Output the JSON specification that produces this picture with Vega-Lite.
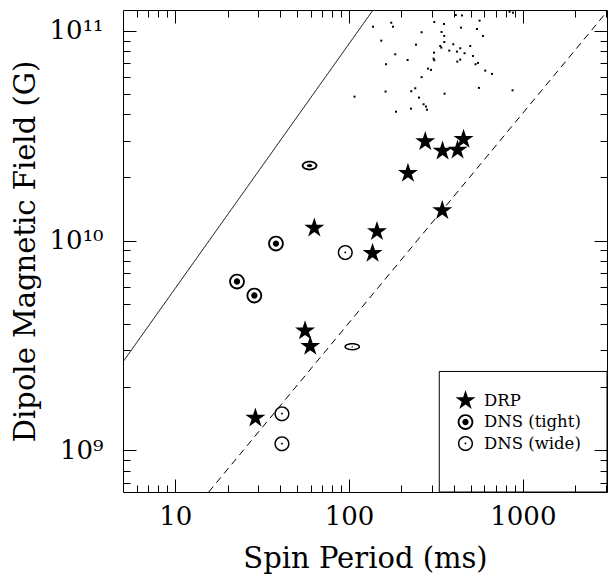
{
  "$schema": "https://vega.github.io/schema/vega-lite/v6.json",
  "width": 484,
  "height": 482,
  "autosize": "none",
  "padding": {"left": 123, "top": 10, "right": 1, "bottom": 92},
  "background": "white",
  "config": {
    "view": {"stroke": "black", "strokeWidth": 1},
    "axis": {
      "domain": false, "grid": false, "tickColor": "black", "tickWidth": 1,
      "labelFont": "DejaVu Serif", "titleFont": "DejaVu Serif",
      "labelColor": "black", "titleColor": "black", "titleFontWeight": "normal",
      "labelFlush": false, "labelOverlap": false
    }
  },
  "datasets": {
    "lines": [
      {"P": 5, "B": 2.64e9, "line": "spin-up"},
      {"P": 137.4, "B": 1.259e11, "line": "spin-up"},
      {"P": 15.57, "B": 6.32e8, "line": "death"},
      {"P": 3050, "B": 1.237e11, "line": "death"}
    ],
    "dots": [
      {"P": 137.3, "B": 1.048e11}, {"P": 174.9, "B": 1.095e11}, {"P": 178.9, "B": 1.048e11},
      {"P": 153.2, "B": 8.99e10}, {"P": 107.5, "B": 4.86e10}, {"P": 184.4, "B": 7.74e10},
      {"P": 163.1, "B": 6.94e10}, {"P": 217.1, "B": 7.27e10}, {"P": 242.7, "B": 8.60e10},
      {"P": 261.4, "B": 9.86e10}, {"P": 309.2, "B": 1.104e11}, {"P": 351.6, "B": 1.080e11},
      {"P": 340.6, "B": 9.89e10}, {"P": 353.0, "B": 9.47e10}, {"P": 353.0, "B": 8.86e10},
      {"P": 334.7, "B": 8.48e10}, {"P": 339.2, "B": 8.33e10}, {"P": 308.0, "B": 7.88e10},
      {"P": 306.4, "B": 7.38e10}, {"P": 309.2, "B": 7.25e10}, {"P": 284.4, "B": 6.61e10},
      {"P": 295.9, "B": 6.52e10}, {"P": 261.4, "B": 6.02e10}, {"P": 240.4, "B": 5.33e10},
      {"P": 228.0, "B": 5.16e10}, {"P": 162.2, "B": 5.14e10}, {"P": 252.5, "B": 4.81e10},
      {"P": 268.4, "B": 4.47e10}, {"P": 277.1, "B": 4.36e10}, {"P": 280.7, "B": 4.21e10},
      {"P": 227.1, "B": 4.26e10}, {"P": 186.2, "B": 4.12e10}, {"P": 354.4, "B": 5.02e10},
      {"P": 397.7, "B": 8.64e10}, {"P": 377.2, "B": 8.06e10}, {"P": 417.6, "B": 7.97e10},
      {"P": 436.3, "B": 8.27e10}, {"P": 461.9, "B": 7.83e10}, {"P": 419.4, "B": 7.14e10},
      {"P": 436.3, "B": 7.30e10}, {"P": 498.1, "B": 8.48e10}, {"P": 516.3, "B": 7.60e10},
      {"P": 534.3, "B": 6.94e10}, {"P": 551.6, "B": 7.04e10}, {"P": 607.6, "B": 6.47e10},
      {"P": 664.2, "B": 6.24e10}, {"P": 440.4, "B": 1.037e11}, {"P": 544.4, "B": 1.022e11},
      {"P": 563.5, "B": 1.120e11}, {"P": 589.4, "B": 9.47e10}, {"P": 559.0, "B": 5.35e10},
      {"P": 872.6, "B": 5.21e10}, {"P": 411.1, "B": 1.192e11}, {"P": 446.3, "B": 1.186e11},
      {"P": 838.5, "B": 1.236e11}, {"P": 877.0, "B": 1.222e11}
    ],
    "psr": [
      {"P": 63.1, "B": 1.147e10, "type": "DRP"},
      {"P": 144.7, "B": 1.104e10, "type": "DRP"},
      {"P": 136.5, "B": 8.71e9, "type": "DRP"},
      {"P": 55.8, "B": 3.71e9, "type": "DRP"},
      {"P": 59.8, "B": 3.13e9, "type": "DRP"},
      {"P": 218.2, "B": 2.097e10, "type": "DRP"},
      {"P": 343.8, "B": 1.391e10, "type": "DRP"},
      {"P": 28.9, "B": 1.424e9, "type": "DRP"},
      {"P": 274.4, "B": 2.966e10, "type": "DRP"},
      {"P": 345.0, "B": 2.679e10, "type": "DRP"},
      {"P": 421.0, "B": 2.708e10, "type": "DRP"},
      {"P": 455.9, "B": 3.046e10, "type": "DRP"},
      {"P": 37.96, "B": 9.68e9, "type": "DNS (tight)"},
      {"P": 22.65, "B": 6.38e9, "type": "DNS (tight)"},
      {"P": 28.5, "B": 5.47e9, "type": "DNS (tight)"},
      {"P": 59.25, "B": 2.279e10, "type": "DNS (tight) eccentric"},
      {"P": 95.1, "B": 8.77e9, "type": "DNS (wide)"},
      {"P": 41.1, "B": 1.493e9, "type": "DNS (wide)"},
      {"P": 41.1, "B": 1.074e9, "type": "DNS (wide)"},
      {"P": 104.3, "B": 3.115e9, "type": "DNS (wide) eccentric"}
    ],
    "box": [{"P1": 330.4, "P2": 3050, "B1": 6.32e8, "B2": 2.375e9}]
  },
  "layer": [
    {
      "data": {"name": "lines"},
      "mark": {"type": "line", "color": "black", "strokeWidth": 1, "clip": true},
      "encoding": {
        "x": {"field": "P", "type": "quantitative",
          "scale": {"type": "log", "domain": [5, 3050], "nice": false},
          "axis": {"orient": "bottom", "values": [10, 100, 1000], "tickSize": -13,
            "labelFontSize": 26, "labelPadding": 24, "labelExpr": "format(datum.value, 'd')",
            "title": "Spin Period (ms)", "titleFontSize": 29, "titleBaseline": "alphabetic", "titleY": 75}},
        "y": {"field": "B", "type": "quantitative",
          "scale": {"type": "log", "domain": [6.32e8, 1.259e11], "nice": false},
          "axis": {"orient": "left", "values": [1e9, 1e10, 1e11], "tickSize": -13,
            "labelFontSize": 26, "labelPadding": 33,
            "labelExpr": "datum.value >= 5e10 ? '10¹¹' : datum.value >= 5e9 ? '10¹⁰' : '10⁹'",
            "title": "Dipole Magnetic Field (G)", "titleFontSize": 29, "titleBaseline": "alphabetic", "titleX": -89}},
        "detail": {"field": "line", "type": "nominal"},
        "strokeDash": {"field": "line", "type": "nominal",
          "scale": {"domain": ["spin-up", "death"], "range": [[1, 0], [7, 5]]}, "legend": null}
      }
    },
    {
      "data": {"name": "dots"},
      "mark": {"type": "point", "shape": "square", "filled": true, "color": "black", "size": 4, "opacity": 1},
      "encoding": {
        "x": {"field": "P", "type": "quantitative",
          "scale": {"type": "log", "domain": [5, 3050], "nice": false},
          "axis": {"orient": "bottom", "values": [6, 7, 8, 9, 20, 30, 40, 50, 60, 70, 80, 90, 200, 300, 400, 500, 600, 700, 800, 900, 2000, 3000],
            "tickSize": -7, "labels": false, "title": null}},
        "y": {"field": "B", "type": "quantitative",
          "scale": {"type": "log", "domain": [6.32e8, 1.259e11], "nice": false},
          "axis": {"orient": "left", "values": [7e8, 8e8, 9e8, 2e9, 3e9, 4e9, 5e9, 6e9, 7e9, 8e9, 9e9, 2e10, 3e10, 4e10, 5e10, 6e10, 7e10, 8e10, 9e10],
            "tickSize": -7, "labels": false, "title": null}}
      }
    },
    {
      "data": {"name": "box"},
      "mark": {"type": "rect", "fill": null, "stroke": "black", "strokeWidth": 1},
      "encoding": {
        "x": {"field": "P1", "type": "quantitative",
          "scale": {"type": "log", "domain": [5, 3050], "nice": false},
          "axis": {"orient": "top", "values": [6, 7, 8, 9, 20, 30, 40, 50, 60, 70, 80, 90, 200, 300, 400, 500, 600, 700, 800, 900, 2000, 3000],
            "tickSize": -7, "labels": false, "title": null}},
        "x2": {"field": "P2"},
        "y": {"field": "B1", "type": "quantitative",
          "scale": {"type": "log", "domain": [6.32e8, 1.259e11], "nice": false},
          "axis": {"orient": "right", "values": [7e8, 8e8, 9e8, 2e9, 3e9, 4e9, 5e9, 6e9, 7e9, 8e9, 9e9, 2e10, 3e10, 4e10, 5e10, 6e10, 7e10, 8e10, 9e10],
            "tickSize": -7, "labels": false, "title": null}},
        "y2": {"field": "B2"}
      }
    },
    {
      "data": {"name": "psr"},
      "mark": {"type": "point", "filled": true, "color": "black", "size": 441, "strokeWidth": 0, "opacity": 1},
      "encoding": {
        "x": {"field": "P", "type": "quantitative",
          "scale": {"type": "log", "domain": [5, 3050], "nice": false},
          "axis": {"orient": "top", "values": [10, 100, 1000], "tickSize": -13, "labels": false, "title": null}},
        "y": {"field": "B", "type": "quantitative",
          "scale": {"type": "log", "domain": [6.32e8, 1.259e11], "nice": false},
          "axis": {"orient": "right", "values": [1e9, 1e10, 1e11], "tickSize": -13, "labels": false, "title": null}},
        "shape": {"field": "type", "type": "nominal",
          "scale": {
            "domain": ["DRP", "DNS (tight)", "DNS (wide)", "DNS (tight) eccentric", "DNS (wide) eccentric"],
            "range": [
              "M0,-1L0.225,-0.309L0.951,-0.309L0.363,0.118L0.588,0.809L0,0.382L-0.588,0.809L-0.363,0.118L-0.951,-0.309L-0.225,-0.309Z",
              "M0.75,0A0.75,0.75,0,1,1,-0.75,0A0.75,0.75,0,1,1,0.75,0ZM0.57,0A0.57,0.57,0,1,0,-0.57,0A0.57,0.57,0,1,0,0.57,0ZM0.3,0A0.3,0.3,0,1,1,-0.3,0A0.3,0.3,0,1,1,0.3,0Z",
              "M0.72,0A0.72,0.72,0,1,1,-0.72,0A0.72,0.72,0,1,1,0.72,0ZM0.58,0A0.58,0.58,0,1,0,-0.58,0A0.58,0.58,0,1,0,0.58,0ZM0.09,0A0.09,0.09,0,1,1,-0.09,0A0.09,0.09,0,1,1,0.09,0Z",
              "M0.75,0A0.75,0.46,0,1,1,-0.75,0A0.75,0.46,0,1,1,0.75,0ZM0.57,0A0.57,0.29,0,1,0,-0.57,0A0.57,0.29,0,1,0,0.57,0ZM0.26,0A0.26,0.16,0,1,1,-0.26,0A0.26,0.16,0,1,1,0.26,0Z",
              "M0.75,0A0.75,0.35,0,1,1,-0.75,0A0.75,0.35,0,1,1,0.75,0ZM0.6,0A0.6,0.21,0,1,0,-0.6,0A0.6,0.21,0,1,0,0.6,0ZM0.08,0A0.08,0.06,0,1,1,-0.08,0A0.08,0.06,0,1,1,0.08,0Z"
            ]
          },
          "legend": {
            "orient": "none", "legendX": 332, "legendY": 380, "title": null,
            "values": ["DRP", "DNS (tight)", "DNS (wide)"],
            "labelFont": "DejaVu Serif", "labelFontSize": 16.5, "labelColor": "black",
            "symbolSize": 441, "symbolFillColor": "black", "symbolStrokeWidth": 0,
            "rowPadding": 2.5, "labelOffset": 8, "padding": 0
          }
        }
      }
    }
  ],
  "resolve": {"axis": {"x": "independent", "y": "independent"}}
}
